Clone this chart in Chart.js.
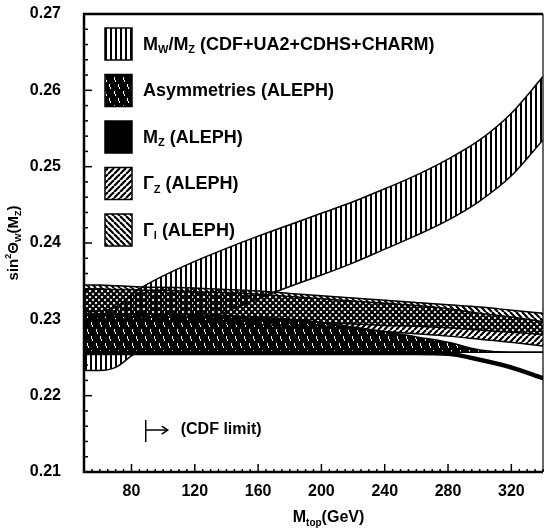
<!DOCTYPE html>
<html>
<head>
<meta charset="utf-8">
<script src="https://cdn.jsdelivr.net/npm/chart.js@4.4.0/dist/chart.umd.min.js"></script>
<style>
  html, body { margin: 0; padding: 0; background: #fff; }
  #wrap { width: 545px; height: 531px; }
</style>
</head>
<body>
<div id="wrap"><canvas id="chart" width="545" height="531"></canvas></div>
<script>
// top mass grid (GeV) shared by all bands
const mtop = [50, 60, 70, 80, 90, 100, 120, 140, 160, 180, 200, 220, 240, 260, 280, 300, 320, 340];

// M_W/M_Z (CDF+UA2+CDHS+CHARM)
const mwLow  = [0.2233, 0.2233, 0.2237, 0.2252, 0.2265, 0.2275, 0.2293, 0.2310, 0.2327, 0.2343, 0.2358, 0.2374, 0.2392, 0.2410, 0.2430, 0.2455, 0.2488, 0.2535];
const mwHigh = [0.2310, 0.2311, 0.2316, 0.2332, 0.2346, 0.2357, 0.2376, 0.2393, 0.2409, 0.2424, 0.2439, 0.2454, 0.2471, 0.2489, 0.2510, 0.2535, 0.2570, 0.2618];

// Asymmetries (ALEPH)
const asymLow  = [0.2257, 0.2257, 0.2257, 0.2257, 0.2257, 0.2257, 0.2257, 0.2257, 0.2257, 0.2257, 0.2257, 0.2257, 0.2257, 0.2257, 0.2257, 0.2257, 0.2257, 0.2257];
const asymHigh = [0.2307, 0.2307, 0.2307, 0.2307, 0.2307, 0.2307, 0.2306, 0.2305, 0.2303, 0.2300, 0.2296, 0.2290, 0.2284, 0.2277, 0.2270, 0.2260, 0.2257, 0.2257];

// M_Z (ALEPH)
const mzLow  = [0.2254, 0.2254, 0.2254, 0.2254, 0.2254, 0.2254, 0.2254, 0.2254, 0.2254, 0.2254, 0.2254, 0.2254, 0.2254, 0.2254, 0.2253, 0.2245, 0.2235, 0.2221];
const mzHigh = [0.2258, 0.2258, 0.2258, 0.2258, 0.2258, 0.2258, 0.2258, 0.2258, 0.2258, 0.2258, 0.2258, 0.2258, 0.2258, 0.2258, 0.2257, 0.2249, 0.2239, 0.2225];

// Gamma_Z (ALEPH)
const gzLow  = [0.2300, 0.2300, 0.2299, 0.2299, 0.2298, 0.2297, 0.2296, 0.2295, 0.2293, 0.2291, 0.2289, 0.2287, 0.2284, 0.2281, 0.2278, 0.2274, 0.2270, 0.2265];
const gzHigh = [0.2340, 0.2340, 0.2339, 0.2339, 0.2338, 0.2338, 0.2336, 0.2335, 0.2333, 0.2330, 0.2327, 0.2324, 0.2321, 0.2318, 0.2314, 0.2308, 0.2303, 0.2297];

// Gamma_l (ALEPH)
const glLow  = [0.2305, 0.2305, 0.2304, 0.2304, 0.2303, 0.2303, 0.2302, 0.2301, 0.2300, 0.2298, 0.2296, 0.2294, 0.2292, 0.2291, 0.2289, 0.2286, 0.2283, 0.2280];
const glHigh = [0.2345, 0.2345, 0.2344, 0.2343, 0.2342, 0.2342, 0.2341, 0.2339, 0.2337, 0.2334, 0.2331, 0.2328, 0.2325, 0.2322, 0.2319, 0.2316, 0.2312, 0.2308];

// axis ticks
const xTicks = [80, 120, 160, 200, 240, 280, 320];
const yTicks = [0.21, 0.22, 0.23, 0.24, 0.25, 0.26, 0.27];
const cdfLimit = 89;

const FONT = "'Liberation Sans', Arial, sans-serif";

// hatch patterns
function makePattern(kind) {
    const c = document.createElement("canvas");
    const g = c.getContext("2d");
    if (kind === "vert") {
        c.width = 5; c.height = 5;
        g.fillStyle = "#000";
        g.fillRect(0, 0, 2, 5);
    } else if (kind === "up" || kind === "down") {
        const s = 6;
        c.width = s; c.height = s;
        g.strokeStyle = "#000";
        g.lineWidth = 2.2;
        for (let k = -1; k <= 1; k++) {
            g.beginPath();
            if (kind === "up") {
                g.moveTo(k * s, s); g.lineTo(k * s + s, 0);
            } else {
                g.moveTo(k * s, 0); g.lineTo(k * s + s, s);
            }
            g.stroke();
        }
    } else if (kind === "asym") {
        // dark fill with thin white streaks
        c.width = 9; c.height = 14;
        g.fillStyle = "#000";
        g.fillRect(0, 0, 9, 14);
        g.fillStyle = "#fff";
        g.fillRect(1, 0, 1, 3);
        g.fillRect(2, 3, 1, 2);
        g.fillRect(6, 7, 1, 3);
        g.fillRect(7, 10, 1, 2);
    } else {
        return "#000";
    }
    return g.createPattern(c, "repeat");
}

const pats = {
    vert: makePattern("vert"),
    asym: makePattern("asym"),
    solid: "#000",
    up: makePattern("up"),
    down: makePattern("down")
};

function pts(arr) {
    return mtop.map((m, i) => ({ x: m, y: arr[i] }));
}

function band(lo, hi, fillStyle) {
    const base = { pointRadius: 0, borderColor: "#000", borderWidth: 1.5, cubicInterpolationMode: "monotone" };
    return [
        Object.assign({}, base, { data: pts(lo), fill: false }),
        Object.assign({}, base, { data: pts(hi), fill: "-1", backgroundColor: fillStyle })
    ];
}

// first dataset is drawn on top
const datasets = [].concat(
    band(mzLow, mzHigh, pats.solid),
    band(glLow, glHigh, pats.down),
    band(gzLow, gzHigh, pats.up),
    band(asymLow, asymHigh, pats.asym),
    band(mwLow, mwHigh, pats.vert)
);

// text with sub/superscripts: parts = [[text, mode]] mode 1 = sub, 2 = sup
function richWidth(ctx, parts, size) {
    let w = 0;
    parts.forEach(p => {
        ctx.font = "bold " + (p[1] ? Math.round(size * 0.6) : size) + "px " + FONT;
        w += ctx.measureText(p[0]).width;
    });
    return w;
}
function drawRich(ctx, parts, x, y, size) {
    ctx.textBaseline = "middle";
    ctx.textAlign = "left";
    parts.forEach(p => {
        const s = p[1] ? Math.round(size * 0.6) : size;
        ctx.font = "bold " + s + "px " + FONT;
        let dy = 0;
        if (p[1] === 1) dy = size * 0.3;
        if (p[1] === 2) dy = -size * 0.35;
        ctx.fillText(p[0], x, y + dy);
        x += ctx.measureText(p[0]).width;
    });
}

const legendItems = [
    { fill: pats.vert, parts: [["M"], ["W", 1], ["/M"], ["Z", 1], [" (CDF+UA2+CDHS+CHARM)"]] },
    { fill: pats.asym, parts: [["Asymmetries (ALEPH)"]] },
    { fill: pats.solid, parts: [["M"], ["Z", 1], [" (ALEPH)"]] },
    { fill: pats.up, parts: [["Γ"], ["Z", 1], [" (ALEPH)"]] },
    { fill: pats.down, parts: [["Γ"], ["l", 1], [" (ALEPH)"]] }
];

const decor = {
    id: "decor",
    afterDraw(chart) {
        const ctx = chart.ctx;
        const a = chart.chartArea;
        const xs = chart.scales.x, ys = chart.scales.y;
        ctx.save();
        ctx.fillStyle = "#000";
        ctx.strokeStyle = "#000";

        // ticks pointing inward
        ctx.lineWidth = 1.5;
        for (let v = 50; v <= 340; v += 5) {
            const px = xs.getPixelForValue(v);
            const len = xTicks.includes(v) ? 8 : 3;
            ctx.beginPath(); ctx.moveTo(px, a.bottom); ctx.lineTo(px, a.bottom - len); ctx.stroke();
        }
        for (let k = 0; k <= 30; k++) {
            const py = ys.getPixelForValue(0.21 + k * 0.002);
            const len = k % 5 === 0 ? 8 : 4;
            ctx.beginPath(); ctx.moveTo(a.left, py); ctx.lineTo(a.left + len, py); ctx.stroke();
        }

        // frame
        ctx.lineWidth = 2.5;
        ctx.beginPath();
        ctx.moveTo(a.right, a.top); ctx.lineTo(a.left, a.top); ctx.lineTo(a.left, a.bottom); ctx.lineTo(a.right, a.bottom);
        ctx.stroke();
        ctx.lineWidth = 1.2;
        ctx.beginPath(); ctx.moveTo(a.right, a.top); ctx.lineTo(a.right, a.bottom); ctx.stroke();

        // legend
        const bx = a.left + 21, bw = 27, bh = 32;
        legendItems.forEach((it, i) => {
            const cy = a.top + 30 + i * 46.5;
            ctx.fillStyle = "#fff";
            ctx.fillRect(bx, cy - bh / 2, bw, bh);
            ctx.fillStyle = it.fill;
            ctx.fillRect(bx, cy - bh / 2, bw, bh);
            ctx.lineWidth = 1.5;
            ctx.strokeRect(bx, cy - bh / 2, bw, bh);
            ctx.fillStyle = "#000";
            drawRich(ctx, it.parts, bx + 38, cy + 1, 18);
        });

        // CDF limit marker
        const cx = xs.getPixelForValue(cdfLimit);
        const cyv = ys.getPixelForValue(0.2155);
        ctx.lineWidth = 1.5;
        ctx.beginPath(); ctx.moveTo(cx, cyv - 10); ctx.lineTo(cx, cyv + 12); ctx.stroke();
        ctx.beginPath(); ctx.moveTo(cx, cyv); ctx.lineTo(cx + 21, cyv); ctx.stroke();
        ctx.beginPath(); ctx.moveTo(cx + 16, cyv - 4); ctx.lineTo(cx + 22, cyv); ctx.lineTo(cx + 16, cyv + 4); ctx.stroke();
        drawRich(ctx, [["(CDF limit)"]], cx + 35, cyv, 16);

        // x axis title
        const xt = [["M"], ["top", 1], ["(GeV)"]];
        const xw = richWidth(ctx, xt, 16);
        drawRich(ctx, xt, (a.left + a.right) / 2 + 15 - xw / 2, 518, 16);

        // y axis title, rotated
        const yt = [["sin"], ["2", 2], ["Θ"], ["W", 1], ["(M"], ["Z", 1], [")"]];
        const yw = richWidth(ctx, yt, 15);
        ctx.translate(14, (a.top + a.bottom) / 2);
        ctx.rotate(-Math.PI / 2);
        drawRich(ctx, yt, -yw / 2, 0, 15);
        ctx.restore();
    }
};

new Chart(document.getElementById("chart"), {
    type: "line",
    data: { datasets: datasets },
    options: {
        responsive: false,
        animation: false,
        layout: { padding: { top: 14, right: 2, left: 0, bottom: 0 } },
        plugins: { legend: { display: false }, tooltip: { enabled: false } },
        scales: {
            x: {
                type: "linear",
                min: 50,
                max: 340,
                grid: { display: false },
                border: { display: false },
                afterBuildTicks: s => { s.ticks = xTicks.map(v => ({ value: v })); },
                afterFit: s => { s.height = 59; s.paddingLeft = 0; s.paddingRight = 0; },
                ticks: {
                    padding: 2,
                    maxRotation: 0,
                    color: "#000",
                    font: { family: FONT, size: 16, weight: "bold" }
                }
            },
            y: {
                min: 0.21,
                max: 0.27,
                grid: { display: false },
                border: { display: false },
                afterBuildTicks: s => { s.ticks = yTicks.map(v => ({ value: v })); },
                afterFit: s => { s.width = 84; s.paddingTop = 0; s.paddingBottom = 0; },
                ticks: {
                    padding: 15,
                    color: "#000",
                    font: { family: FONT, size: 16, weight: "bold" },
                    callback: v => v.toFixed(2)
                }
            }
        }
    },
    plugins: [decor]
});
</script>
</body>
</html>
